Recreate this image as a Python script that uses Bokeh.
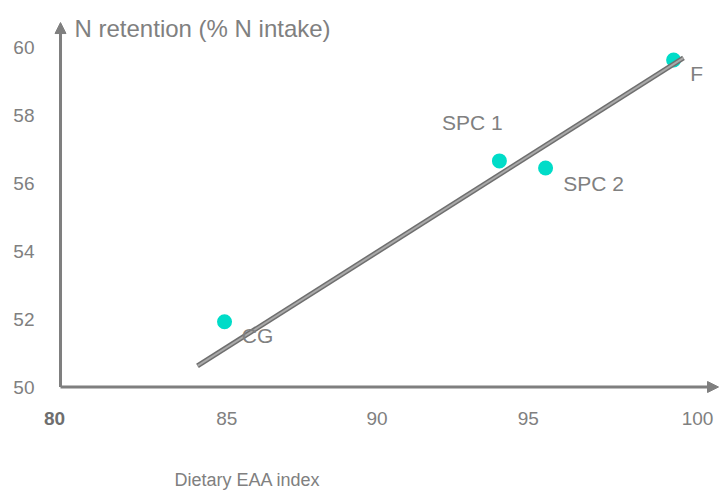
from bokeh.plotting import figure
from bokeh.models import Range1d, Arrow, NormalHead
from bokeh.core.properties import value
from bokeh.embed import file_html
from bokeh.resources import INLINE

# ---- data ----
diets = ["CG", "SPC 1", "SPC 2", "F"]
eaa_index = [85.15, 93.78, 95.23, 99.25]
n_retention = [51.92, 56.65, 56.44, 59.62]
fit_x = [84.30, 99.56]
fit_y = [50.62, 59.68]
x_ticks = [80, 85, 90, 95, 100]
y_ticks = [50, 52, 54, 56, 58, 60]
x_title = "Dietary EAA index"
y_title = "N retention (% N intake)"

# ---- styling ----
FONT = "Liberation Sans"
GRAY = "#808080"
AXIS = "#7f7f7f"
DOT = "#00DCC8"
label_dx = [33, -27, 48, 23]
label_dy = [14, -38, 15, 14]
xtick_dx = [-6, 7, -2, -10, 0]
xtick_style = ["bold", "normal", "normal", "normal", "normal"]
xtick_color = ["#6e6e6e", GRAY, GRAY, GRAY, GRAY]

p = figure(width=720, height=493, output_backend="svg", toolbar_location=None,
           x_range=Range1d(78.116, 100.722), y_range=Range1d(46.868, 61.368),
           min_border_left=0, min_border_right=0, min_border_top=0,
           min_border_bottom=0)
p.title.visible = False
p.xaxis.visible = False
p.yaxis.visible = False
p.grid.visible = False
p.outline_line_color = None
p.background_fill_color = "white"
p.border_fill_color = "white"

# axes with arrow heads
p.add_layout(Arrow(end=NormalHead(size=11, fill_color=AXIS, line_color=AXIS),
                   x_start=x_ticks[0], y_start=y_ticks[0],
                   x_end=x_ticks[0], y_end=60.72,
                   line_color=AXIS, line_width=3))
p.add_layout(Arrow(end=NormalHead(size=11, fill_color=AXIS, line_color=AXIS),
                   x_start=x_ticks[0], y_start=y_ticks[0],
                   x_end=100.66, y_end=y_ticks[0],
                   line_color=AXIS, line_width=3))

# tick labels
p.text(x=[x_ticks[0]] * len(y_ticks), y=y_ticks, text=[str(t) for t in y_ticks],
       x_offset=-26, text_align="right", text_baseline="middle",
       text_font=value(FONT), text_font_size="19px", text_color=GRAY)
p.text(x=x_ticks, y=[y_ticks[0]] * len(x_ticks), text=[str(t) for t in x_ticks],
       x_offset=xtick_dx, y_offset=31.5, text_align="center", text_baseline="middle",
       text_font=value(FONT), text_font_size="19px",
       text_font_style=xtick_style, text_color=xtick_color)

# points
p.scatter(eaa_index, n_retention, size=15, fill_color=DOT, line_color=None)

# regression line (shaded look)
p.line(fit_x, fit_y, line_width=5, line_color="#6f6f6f")
p.line(fit_x, fit_y, line_width=2, line_color="#a9a9a9")

# point labels
p.text(x=eaa_index, y=n_retention, text=diets, x_offset=label_dx, y_offset=label_dy,
       text_align="center", text_baseline="middle", text_font=value(FONT),
       text_font_size="21px", text_color=GRAY)

# axis titles
p.text(x=[x_ticks[0]], y=[y_ticks[-1]], text=[y_title], x_offset=14, y_offset=-18.5,
       text_align="left", text_baseline="middle",
       text_font=value(FONT), text_font_size="24px", text_color=GRAY)
p.text(x=[x_ticks[0]], y=[y_ticks[0]], text=[x_title], x_offset=187, y_offset=93,
       text_align="center", text_baseline="middle",
       text_font=value(FONT), text_font_size="18px", text_color=GRAY)

open("out.html", "w").write(file_html(p, INLINE))
